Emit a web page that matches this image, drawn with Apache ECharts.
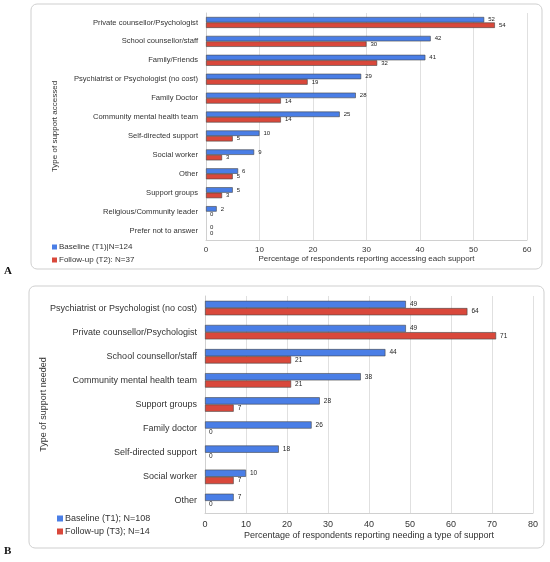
<!DOCTYPE html>
<html>
<head>
<meta charset="utf-8">
<script src="https://cdn.jsdelivr.net/npm/echarts@6/dist/echarts.min.js"></script>
<style>
  html, body { margin: 0; padding: 0; background: #fff; }
  #chart { width: 550px; height: 562px; }
</style>
</head>
<body>
<div id="chart"></div>
<script>
// panel A: support accessed
var catsA = ['Private counsellor/Psychologist', 'School counsellor/staff', 'Family/Friends',
  'Psychiatrist or Psychologist (no cost)', 'Family Doctor', 'Community mental health team',
  'Self-directed support', 'Social worker', 'Other', 'Support groups',
  'Religious/Community leader', 'Prefer not to answer'];
var baseA = [52, 42, 41, 29, 28, 25, 10, 9, 6, 5, 2, 0];
var followA = [54, 30, 32, 19, 14, 14, 5, 3, 5, 3, 0, 0];
var namesA = ['Baseline (T1)|N=124', 'Follow-up (T2): N=37'];

// panel B: support needed
var catsB = ['Psychiatrist or Psychologist (no cost)', 'Private counsellor/Psychologist',
  'School counsellor/staff', 'Community mental health team', 'Support groups',
  'Family doctor', 'Self-directed support', 'Social worker', 'Other'];
var baseB = [49, 49, 44, 38, 28, 26, 18, 10, 7];
var followB = [64, 71, 21, 21, 7, 0, 0, 7, 0];
var namesB = ['Baseline (T1); N=108', 'Follow-up (T3); N=14'];

var blue = '#4a7ee6';
var red = '#d9483b';
var font = 'Liberation Sans, Arial, sans-serif';

var chart = echarts.init(document.getElementById('chart'));

function barSeries(name, data, color, idx, fs, gap) {
  return {
    name: name,
    type: 'bar',
    xAxisIndex: idx,
    yAxisIndex: idx,
    // zero bars get no outline so no stray line shows at the axis
    data: data.map(function (v) {
      return v === 0 ? { value: v, itemStyle: { borderWidth: 0 } } : v;
    }),
    barGap: '0%',
    barCategoryGap: gap,
    itemStyle: { color: color, borderColor: '#444', borderWidth: 0.6 },
    label: {
      show: true, position: 'right', distance: 4,
      fontSize: fs, color: '#222', fontFamily: font
    }
  };
}

var option = {
  animation: false,
  textStyle: { fontFamily: font },
  graphic: [
    { type: 'rect', shape: { x: 31, y: 4, width: 511, height: 265, r: 6 },
      style: { fill: 'none', stroke: '#cfcfcf', lineWidth: 1 } },
    { type: 'rect', shape: { x: 29, y: 286, width: 515, height: 262, r: 6 },
      style: { fill: 'none', stroke: '#cfcfcf', lineWidth: 1 } },
    { type: 'text', left: 4, top: 266,
      style: { text: 'A', font: 'bold 11px Liberation Serif', fill: '#111' } },
    { type: 'text', left: 4, top: 546,
      style: { text: 'B', font: 'bold 11px Liberation Serif', fill: '#111' } }
  ],
  legend: [
    {
      data: namesA, orient: 'vertical', left: 47, top: 238,
      icon: 'rect', itemWidth: 5, itemHeight: 5, itemGap: 5,
      itemStyle: { borderWidth: 0 },
      textStyle: { fontSize: 8, color: '#333', padding: [0, 0, 0, -3] }
    },
    {
      data: namesB, orient: 'vertical', left: 52, top: 509,
      icon: 'rect', itemWidth: 6, itemHeight: 6, itemGap: 4,
      itemStyle: { borderWidth: 0 },
      textStyle: { fontSize: 9, color: '#333', padding: [0, 0, 0, -3] }
    }
  ],
  grid: [
    { left: 206, right: 23, top: 13, height: 227 },
    { left: 205, right: 17, top: 296, height: 217 }
  ],
  xAxis: [
    {
      gridIndex: 0, type: 'value', min: 0, max: 60, interval: 10,
      name: 'Percentage of respondents reporting accessing each support',
      nameLocation: 'middle', nameGap: 13,
      nameTextStyle: { fontSize: 8, color: '#333' },
      axisLine: { show: true, lineStyle: { color: '#d0d0d0' } },
      axisTick: { show: false },
      axisLabel: { fontSize: 8, color: '#333', margin: 6 },
      splitLine: { lineStyle: { color: '#e0e0e0' } }
    },
    {
      gridIndex: 1, type: 'value', min: 0, max: 80, interval: 10,
      name: 'Percentage of respondents reporting needing a type of support',
      nameLocation: 'middle', nameGap: 18,
      nameTextStyle: { fontSize: 9, color: '#333' },
      axisLine: { show: true, lineStyle: { color: '#d0d0d0' } },
      axisTick: { show: false },
      axisLabel: { fontSize: 9, color: '#333', margin: 7 },
      splitLine: { lineStyle: { color: '#e0e0e0' } }
    }
  ],
  yAxis: [
    {
      gridIndex: 0, type: 'category', data: catsA, inverse: true,
      name: 'Type of support accessed', nameLocation: 'middle',
      nameRotate: 90, nameGap: 147, nameMoveOverlap: false,
      nameTextStyle: { fontSize: 8, color: '#333' },
      axisLine: { show: true, lineStyle: { color: '#d0d0d0' } },
      axisTick: { show: false },
      axisLabel: { fontSize: 7.6, color: '#333', margin: 8 }
    },
    {
      gridIndex: 1, type: 'category', data: catsB, inverse: true,
      name: 'Type of support needed', nameLocation: 'middle',
      nameRotate: 90, nameGap: 157, nameMoveOverlap: false,
      nameTextStyle: { fontSize: 9, color: '#333' },
      axisLine: { show: true, lineStyle: { color: '#d0d0d0' } },
      axisTick: { show: false },
      axisLabel: { fontSize: 9, color: '#333', margin: 8 }
    }
  ],
  series: [
    barSeries(namesA[0], baseA, blue, 0, 6, '42%'),
    barSeries(namesA[1], followA, red, 0, 6, '42%'),
    barSeries(namesB[0], baseB, blue, 1, 6.5, '40%'),
    barSeries(namesB[1], followB, red, 1, 6.5, '40%')
  ]
};

option && chart.setOption(option);
</script>
</body>
</html>
